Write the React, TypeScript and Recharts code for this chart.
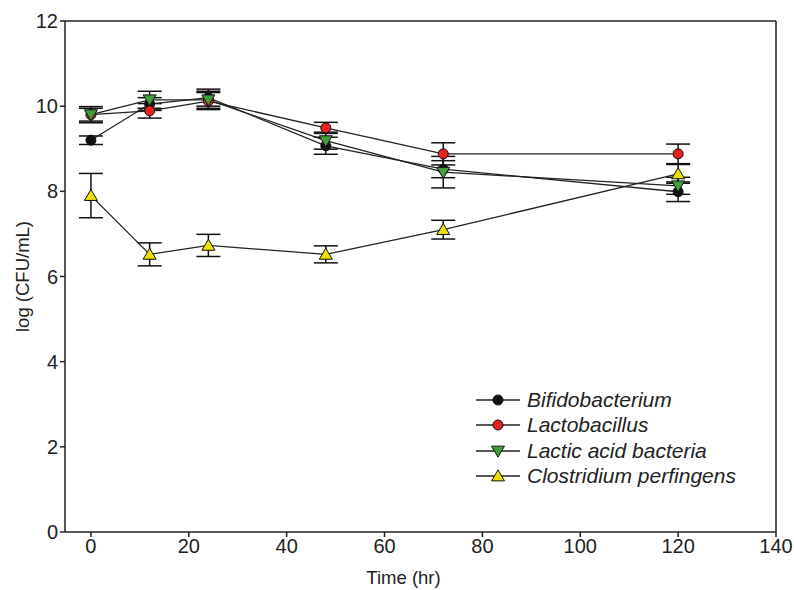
import React from "react";
import {
  ErrorBar,
  Line,
  LineChart,
  ReferenceLine,
  XAxis,
  YAxis,
} from "recharts";

const times = [0, 12, 24, 48, 72, 120];

const bifido = [9.2, 10.05, 10.2, 9.07, 8.52, 7.99];
const bifidoErr = [0.1, 0.15, 0.2, 0.2, 0.2, 0.23];

const lacto = [9.8, 9.89, 10.12, 9.49, 8.88, 8.88];
const lactoErr = [0.15, 0.17, 0.2, 0.13, 0.26, 0.23];

const lab = [9.8, 10.15, 10.15, 9.19, 8.45, 8.13];
const labErr = [0.19, 0.2, 0.2, 0.2, 0.37, 0.2];

const clostridium = [7.9, 6.52, 6.73, 6.52, 7.1, 8.41];
const clostridiumErr = [0.52, 0.27, 0.26, 0.2, 0.22, 0.22];

const xTicks = [0, 20, 40, 60, 80, 100, 120, 140];
const yTicks = [0, 2, 4, 6, 8, 10, 12];

const data = times.map((t, i) => ({
  time: t,
  bifido: bifido[i],
  bifidoErr: bifidoErr[i],
  lacto: lacto[i],
  lactoErr: lactoErr[i],
  lab: lab[i],
  labErr: labErr[i],
  clostridium: clostridium[i],
  clostridiumErr: clostridiumErr[i],
}));

type Shape = "circle" | "down" | "up";

const series: { key: string; name: string; color: string; shape: Shape }[] = [
  { key: "bifido", name: "Bifidobacterium", color: "#111111", shape: "circle" },
  { key: "lacto", name: "Lactobacillus", color: "#e8221f", shape: "circle" },
  { key: "lab", name: "Lactic acid bacteria", color: "#3f9e3a", shape: "down" },
  { key: "clostridium", name: "Clostridium perfingens", color: "#e8e000", shape: "up" },
];

const FONT = "'Liberation Sans', Arial, sans-serif";

function Marker({ cx, cy, color, shape }: { cx: number; cy: number; color: string; shape: Shape }) {
  if (shape === "circle") {
    return <circle cx={cx} cy={cy} r={5} fill={color} stroke="#111" strokeWidth={1} />;
  }
  const s = 6.5;
  const pts =
    shape === "down"
      ? `${cx - s},${cy - s * 0.75} ${cx + s},${cy - s * 0.75} ${cx},${cy + s * 0.95}`
      : `${cx - s},${cy + s * 0.75} ${cx + s},${cy + s * 0.75} ${cx},${cy - s * 0.95}`;
  return <polygon points={pts} fill={color} stroke="#111" strokeWidth={1} />;
}

function LegendBox() {
  return (
    <div style={{ position: "absolute", left: 474, top: 387, fontFamily: FONT }}>
      {series.map((s) => (
        <div key={s.key} style={{ display: "flex", alignItems: "center", height: 25.5 }}>
          <svg width={50} height={20} style={{ display: "block" }}>
            <line x1={2} y1={10} x2={46} y2={10} stroke="#222" strokeWidth={1.5} />
            <Marker cx={24} cy={10} color={s.color} shape={s.shape} />
          </svg>
          <span style={{ fontStyle: "italic", fontSize: 21, color: "#222", marginLeft: 3, whiteSpace: "nowrap" }}>
            {s.name}
          </span>
        </div>
      ))}
    </div>
  );
}

export default function App() {
  return (
    <div style={{ position: "absolute", left: 0, top: 0, width: 794, height: 590, background: "#fff" }}>
      <LineChart
        width={794}
        height={590}
        data={data}
        margin={{ top: 21, right: 18, bottom: 28, left: 25 }}
      >
        <XAxis
          dataKey="time"
          type="number"
          domain={[-5.3, 140]}
          ticks={xTicks}
          allowDataOverflow
          stroke="#222"
          strokeWidth={1.5}
          tickSize={5}
          height={30}
          tick={{ fill: "#222", fontSize: 20, fontFamily: FONT }}
          label={{
            value: "Time (hr)",
            position: "insideBottom",
            offset: -22,
            dx: -17,
            fill: "#222",
            fontSize: 18.5,
            fontFamily: FONT,
          }}
        />
        <YAxis
          type="number"
          domain={[0, 12]}
          ticks={yTicks}
          stroke="#222"
          strokeWidth={1.5}
          tickSize={5}
          width={40}
          tick={{ fill: "#222", fontSize: 20, fontFamily: FONT }}
          label={{
            value: "log (CFU/mL)",
            angle: -90,
            position: "insideLeft",
            dx: -8,
            fill: "#222",
            fontSize: 18.5,
            fontFamily: FONT,
            style: { textAnchor: "middle" },
          }}
        />
        <ReferenceLine y={12} stroke="#222" strokeWidth={1.5} />
        <ReferenceLine x={140} stroke="#222" strokeWidth={1.5} />
        {series.map((s) => (
          <Line
            key={s.key}
            dataKey={s.key}
            name={s.name}
            type="linear"
            stroke="#222"
            strokeWidth={1.3}
            isAnimationActive={false}
            dot={(p: any) => (
              <Marker key={`${s.key}-${p.index}`} cx={p.cx} cy={p.cy} color={s.color} shape={s.shape} />
            )}
            activeDot={false}
          >
            <ErrorBar dataKey={`${s.key}Err`} direction="y" width={12} stroke="#111" strokeWidth={1.5} />
          </Line>
        ))}
      </LineChart>
      <LegendBox />
    </div>
  );
}
